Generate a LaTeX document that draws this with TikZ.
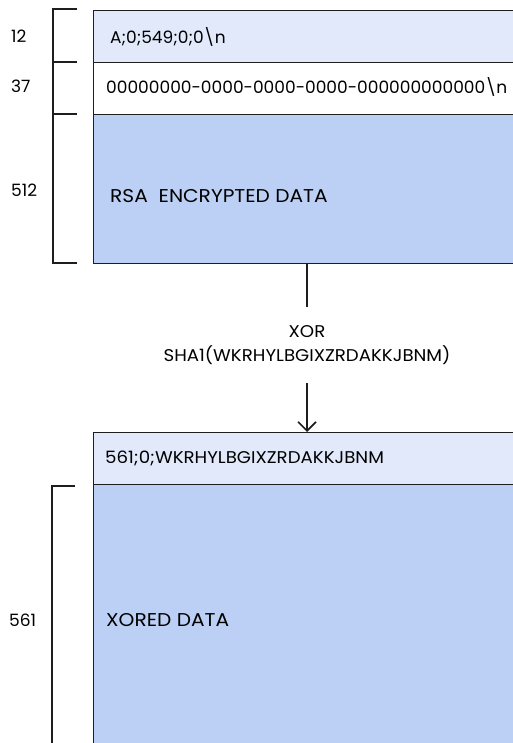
\documentclass[tikz,border=0pt]{standalone}
\usepackage{fontspec}
\setmainfont{Poppins}
\newfontfamily\widefont[FakeStretch=1.07]{Poppins}
\newfontfamily\widerfont[FakeStretch=1.09]{Poppins}
\usetikzlibrary{arrows.meta}
\definecolor{paleblue}{RGB}{225,233,250}
\definecolor{midblue}{RGB}{188,208,245}
\definecolor{edge}{RGB}{30,30,30}
\tikzset{
  field/.style={draw=edge, line width=1.4pt, anchor=north west, inner sep=0pt,
    minimum width=450pt},
  fieldtext/.style={anchor=west, inner sep=0pt, font=\fontsize{17}{20}\selectfont},
  bigtext/.style={anchor=west, inner sep=0pt, font=\widerfont\fontsize{18.5}{22}\selectfont},
  sizelbl/.style={anchor=west, inner sep=0pt, font=\fontsize{17}{20}\selectfont},
  brace/.style={draw=edge, line width=1.4pt},
  flow/.style={draw=edge, line width=1.6pt},
}
\begin{document}
\begin{tikzpicture}[x=1pt,y=-1pt]
\useasboundingbox (0,0) rectangle (513,743);
\clip (0,0) rectangle (513,743);

% upper record
\node[field, fill=paleblue, minimum height=52pt] (hdr) at (93,10) {};
\node[field, fill=white, minimum height=52pt] (uuid) at (93,62) {};
\node[field, fill=midblue, minimum height=149pt] (rsa) at (93,114) {};
\node[fieldtext] (hdrtxt) at (110,37) {A;0;549;0;0\textbackslash n};
\node[fieldtext] (uuidtxt) at (106,87) {00000000-0000-0000-0000-000000000000\textbackslash n};
\node[bigtext] (rsatxt) at (110,196) {RSA\ \ ENCRYPTED DATA};

% byte counts of the upper record
\draw[brace] (77,9) -- (53,9) -- (53,263) -- (77,263);
\draw[brace] (53,62) -- (77,62);
\draw[brace] (53,114) -- (77,114);
\node[sizelbl] (n12) at (11,36) {12};
\node[sizelbl] (n37) at (11,86) {37};
\node[sizelbl] (n512) at (11,190) {512};

% transformation
\node[align=center, inner sep=0pt, minimum height=76pt, font=\widefont\fontsize{17}{24}\selectfont] (op) at (307,345) {XOR\\SHA1(WKRHYLBGIXZRDAKKJBNM)};
\draw[flow] (rsa.south -| op) -- (op.north);

% lower record
\node[field, fill=paleblue, minimum height=52pt] (hdr2) at (93,432) {};
\node[field, fill=midblue, minimum height=300pt] (xored) at (93,484) {};
\node[fieldtext, font=\widefont\fontsize{17}{20}\selectfont] (hdr2txt) at (105,458) {561;0;WKRHYLBGIXZRDAKKJBNM};
\node[bigtext] (xoredtxt) at (106,620) {XORED DATA};
\draw[flow, -{Straight Barb[length=9pt,width=18pt,line width=1.6pt]}] (op.south) -- (hdr2.north -| op);

% byte count of the lower record
\draw[brace] (75,486) -- (52,486) -- (52,760);
\node[sizelbl] (n561) at (9,620) {561};
\end{tikzpicture}
\end{document}
